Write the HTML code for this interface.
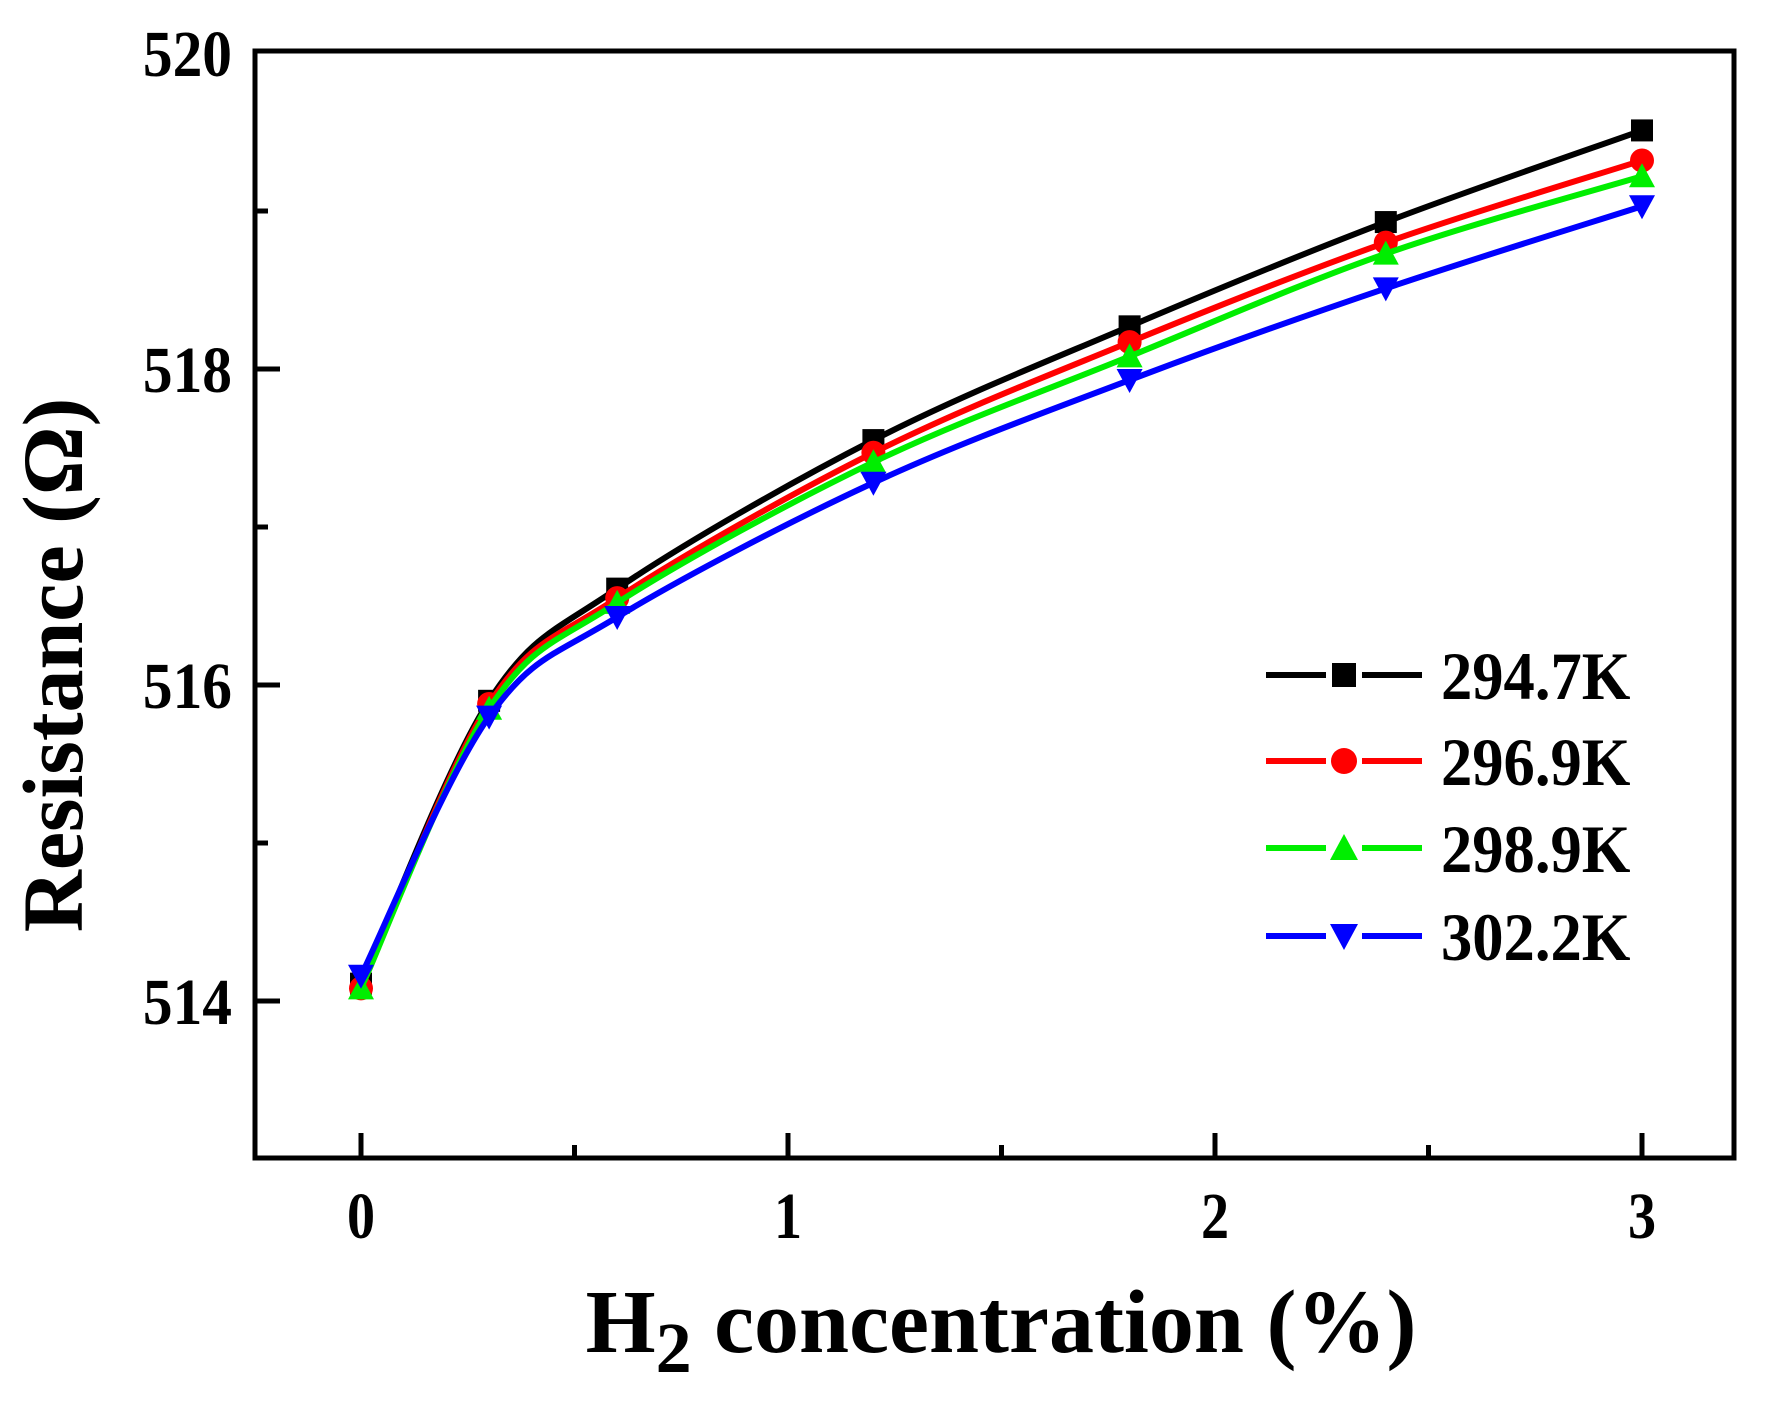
<!DOCTYPE html>
<html><head><meta charset="utf-8"><style>
html,body{margin:0;padding:0;background:#fff;}
svg{display:block;font-family:"Liberation Serif",serif;font-weight:bold;}
</style></head><body>
<svg id="chart" width="1768" height="1408" viewBox="0 0 1768 1408"></svg>
<script>
const xValues = [0, 0.3, 0.6, 1.2, 1.8, 2.4, 3];
const s1 = [514.11, 515.90, 516.61, 517.55, 518.27, 518.93, 519.51];
const s2 = [514.08, 515.88, 516.55, 517.47, 518.17, 518.80, 519.32];
const s3 = [514.08, 515.85, 516.52, 517.41, 518.08, 518.73, 519.22];
const s4 = [514.16, 515.80, 516.43, 517.28, 517.93, 518.51, 519.03];
const seriesNames = ["294.7K", "296.9K", "298.9K", "302.2K"];
const xTicks = [0, 1, 2, 3];
const yTicks = [514, 516, 518, 520];

const NS = "http://www.w3.org/2000/svg";
const svg = document.getElementById('chart');
const L = 255, R = 1734, T = 51, B = 1158;
function X(v){ return 361 + (v - 0) * 427; }
function Y(v){ return 1001 - (v - 514) * 158; }
function mk(tag, attrs, parent){
  const e = document.createElementNS(NS, tag);
  for (const k in attrs) e.setAttribute(k, attrs[k]);
  (parent || svg).appendChild(e);
  return e;
}
const frame = mk('rect', {x:L, y:T, width:R-L, height:B-T, fill:'none', stroke:'#000', 'stroke-width':5});


for (let v = 0; v <= 3.01; v += 0.5){
  const major = Math.abs(v - Math.round(v)) < 1e-6;
  const t = mk('line', {x1:X(v), x2:X(v), y1:B, y2:B-(major?25:13), stroke:'#000', 'stroke-width':5});
  
  
}
xTicks.forEach(v => {
  const t = mk('text', {x:X(v), y:1238, 'text-anchor':'middle', 'font-size':66, transform:`translate(${X(v)},0) scale(0.85,1) translate(${-X(v)},0)`});
  t.textContent = v;
  
  
});
for (let v = 514; v <= 519.01; v += 1){
  const major = (v % 2) === 0;
  const t = mk('line', {x1:L, x2:L+(major?25:13), y1:Y(v), y2:Y(v), stroke:'#000', 'stroke-width':5});
  
  
}
yTicks.forEach(v => {
  const t = mk('text', {x:232, y:Y(v)+23, 'text-anchor':'end', 'font-size':66, transform:`translate(232,0) scale(0.9,1) translate(-232,0)`});
  t.textContent = v;
  
  
});
const xt = mk('text', {x:1001, y:1352, 'text-anchor':'middle', 'font-size':90});
xt.innerHTML = 'H<tspan font-size="72" dy="20">2</tspan><tspan dy="-20"> concentration (%)</tspan>';


const yt = mk('text', {x:0, y:0, 'text-anchor':'middle', 'font-size':86, transform:'translate(82,665) rotate(-90)'});
yt.textContent = 'Resistance (Ω)';



const colors = ['#000000', '#ff0000', '#00ee00', '#0000ff'];
const shapes = ['square', 'circle', 'up', 'down'];
const allSeries = [s1, s2, s3, s4];
function marker(shape, cx, cy, color, size){
  const h = size/2;
  if (shape === 'square') return mk('rect', {x:cx-h, y:cy-h, width:size, height:size, fill:color});
  if (shape === 'circle') return mk('circle', {cx:cx, cy:cy, r:h+1, fill:color});
  if (shape === 'up') return mk('polygon', {points:`${cx},${cy-h-2} ${cx+h+2},${cy+h} ${cx-h-2},${cy+h}`, fill:color});
  return mk('polygon', {points:`${cx-h-2},${cy-h} ${cx+h+2},${cy-h} ${cx},${cy+h+2}`, fill:color});
}
function splinePath(pts){
  let d = `M${pts[0][0]},${pts[0][1]}`;
  for (let i = 0; i < pts.length-1; i++){
    const p0 = pts[Math.max(i-1,0)], p1 = pts[i], p2 = pts[i+1], p3 = pts[Math.min(i+2,pts.length-1)];
    const c1 = [p1[0]+(p2[0]-p0[0])/6, p1[1]+(p2[1]-p0[1])/6];
    const c2 = [p2[0]-(p3[0]-p1[0])/6, p2[1]-(p3[1]-p1[1])/6];
    d += ` C${c1[0]},${c1[1]} ${c2[0]},${c2[1]} ${p2[0]},${p2[1]}`;
  }
  return d;
}
allSeries.forEach((s, si) => {
  const pts = s.map((v, i) => [X(xValues[i]), Y(v)]);
  const p = mk('path', {d:splinePath(pts), fill:'none', stroke:colors[si], 'stroke-width':6});
  
  
  pts.forEach(pt => {
    const m = marker(shapes[si], pt[0], pt[1], colors[si], 22);
    
    
  });
});
const legY = [675, 761, 848, 936];
seriesNames.forEach((n, i) => {
  const g = mk('g', {});
  
  
  mk('line', {x1:1266, x2:1326, y1:legY[i], y2:legY[i], stroke:colors[i], 'stroke-width':6}, g);
  mk('line', {x1:1362, x2:1422, y1:legY[i], y2:legY[i], stroke:colors[i], 'stroke-width':6}, g);
  g.appendChild(marker(shapes[i], 1344, legY[i], colors[i], 24));
  const t = mk('text', {x:1441, y:legY[i]+24, 'font-size':68, transform:'translate(1441,0) scale(0.92,1) translate(-1441,0)'}, g);
  t.textContent = n;
});
</script>
</body></html>
